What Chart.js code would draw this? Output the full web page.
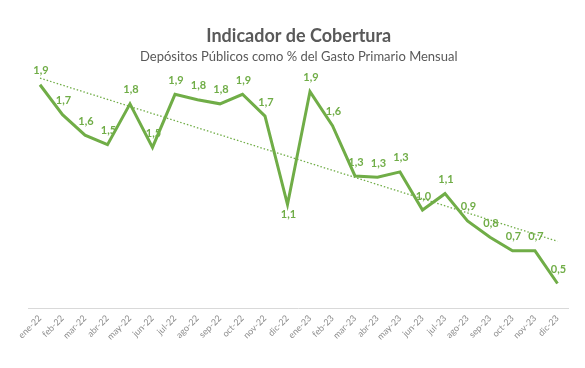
<!DOCTYPE html>
<html>
<head>
<meta charset="utf-8">
<script src="https://cdn.jsdelivr.net/npm/chart.js@4/dist/chart.umd.min.js"></script>
<style>
html,body{margin:0;padding:0;background:#fff;}
#wrap{width:585px;height:368px;position:relative;}
</style>
</head>
<body>
<div id="wrap"><canvas id="c" width="585" height="368"></canvas></div>
<script>
const categories = ['ene-22','feb-22','mar-22','abr-22','may-22','jun-22','jul-22','ago-22','sep-22','oct-22','nov-22','dic-22',
                    'ene-23','feb-23','mar-23','abr-23','may-23','jun-23','jul-23','ago-23','sep-23','oct-23','nov-23','dic-23'];
const cobertura = [1.94,1.72,1.57,1.50,1.80,1.48,1.87,1.83,1.80,1.87,1.71,1.06,
                   1.89,1.64,1.27,1.26,1.30,1.02,1.14,0.94,0.82,0.72,0.72,0.48];
const labelBelow = ['dic-22'];
const titleText = 'Indicador de Cobertura';
const subtitleText = 'Depósitos Públicos como % del Gasto Primario Mensual';

// linear trendline (least squares) of the series, as in the original chart
function trend(vals){
  const n = vals.length; let sx=0, sy=0, sxy=0, sxx=0;
  vals.forEach((v,i)=>{sx+=i; sy+=v; sxy+=i*v; sxx+=i*i;});
  const b = (n*sxy - sx*sy)/(n*sxx - sx*sx); const a = (sy - b*sx)/n;
  return vals.map((v,i)=>a+b*i);
}
const tendencia = trend(cobertura);

const GREEN = '#70AD47';

const labelPlugin = {
  id:'valueLabels',
  afterDatasetsDraw(chart){
    const meta = chart.getDatasetMeta(0);
    const ctx = chart.ctx;
    ctx.save();
    ctx.font = 'bold 11px Lato, "Open Sans", sans-serif';
    ctx.fillStyle = GREEN;
    ctx.textAlign = 'center';
    ctx.textBaseline = 'middle';
    meta.data.forEach((pt,i)=>{
      const txt = cobertura[i].toFixed(1).replace('.',',');
      const below = labelBelow.includes(categories[i]);
      ctx.fillText(txt, pt.x + 1, below ? pt.y + 10 : pt.y - 14);
    });
    ctx.restore();
  }
};

new Chart(document.getElementById('c'), {
  type:'line',
  data:{
    labels: categories,
    datasets:[
      {label:'Cobertura', data: cobertura, borderColor: GREEN, borderWidth: 3, pointRadius: 0, tension: 0, fill:false, order:1},
      {label:'Tendencia', data: tendencia, borderColor: GREEN, borderWidth: 1.3, borderDash:[1.5,2], pointRadius: 0, tension: 0, fill:false, order:2}
    ]
  },
  options:{
    responsive:false,
    animation:false,
    layout:{padding:{left:28.75, right:16.25, top:0, bottom:0}},
    plugins:{
      legend:{display:false},
      tooltip:{enabled:false},
      title:{display:true, text:titleText, color:'#595959',
        font:{family:'Lato, "Open Sans", sans-serif', size:18, weight:'bold'}, padding:{top:25, bottom:0}},
      subtitle:{display:true, text:subtitleText, color:'#595959',
        font:{family:'Lato, "Open Sans", sans-serif', size:13}, padding:{top:2, bottom:12.4}}
    },
    scales:{
      x:{
        offset:true,
        grid:{display:true, drawOnChartArea:false, drawTicks:false},
        border:{display:true, color:'#d9d9d9', width:1},
        ticks:{color:'#8c8c8c', font:{family:'Lato, "Open Sans", sans-serif', size:9}, maxRotation:45, minRotation:45, padding:5, autoSkip:false},
        afterFit(scale){ scale.height = 60; }
      },
      y:{display:false, min:0.3, max:2.0}
    }
  },
  plugins:[labelPlugin]
});
</script>
</body>
</html>
